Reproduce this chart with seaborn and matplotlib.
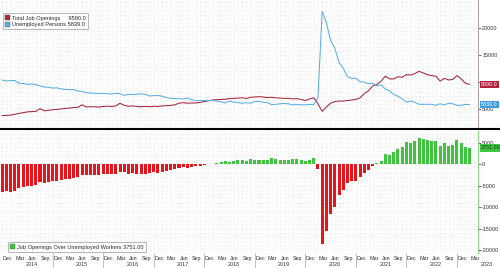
import numpy as np
import pandas as pd
import matplotlib
matplotlib.use("Agg")
import matplotlib.pyplot as plt
import seaborn as sns
from matplotlib.patches import Patch
from matplotlib.lines import Line2D
import matplotlib.transforms as mtransforms

sns.set_style("white")
plt.rcParams['font.family'] = ['Liberation Sans', 'DejaVu Sans']

# Monthly data, Dec 2013 .. Mar 2023 (thousands)
start_month = "2013-12"
job_openings = [
    3800,
    3850, 3900, 4050, 4200, 4350, 4500, 4550, 4600, 5100, 4700, 4800, 4900,
    4950, 5050, 5150, 5200, 5300, 5350, 5800, 5400, 5450, 5450, 5400, 5500,
    5550, 5500, 5600, 6100, 5700, 5550, 5600, 5500, 5450, 5500, 5450, 5550,
    5500, 5600, 5650, 5700, 5800, 6100, 6200, 6100, 6150, 6150, 6250, 6400,
    6550, 6700, 6750, 6800, 6850, 6950, 7000, 7050, 7100, 7000, 7200, 7250,
    7300, 7250, 7150, 7200, 7100, 7050, 7000, 7000, 6900, 6950, 6800, 6600,
    6900, 7100, 6000, 4600, 5400, 6100, 6400, 6500, 6500, 6600, 6700, 6800,
    7100, 7900, 8400, 9300, 9600, 10200, 11100, 10600, 10600, 11000, 10900, 11400,
    11300, 11600, 12000, 11700, 11400, 11200, 11100, 10200, 10700, 10400, 10500, 11200,
    10600, 9800, 9590,
]
unemployed = [
    10400,
    10200, 10300, 10300, 9800, 9750, 9600, 9650, 9550, 9300, 9100, 9050, 8900,
    8950, 8750, 8650, 8600, 8650, 8350, 8300, 8050, 7950, 7950, 7900, 7900,
    7850, 7800, 7950, 7850, 7550, 7750, 7700, 7750, 7850, 7750, 7450, 7500,
    7550, 7400, 7150, 7000, 6950, 6950, 6900, 7050, 6750, 6550, 6600, 6600,
    6600, 6600, 6500, 6350, 6150, 6500, 6300, 6200, 6100, 6200, 6100, 6400,
    6450, 6250, 6200, 5850, 5900, 6000, 6050, 6000, 5800, 5850, 5800, 5800,
    5900, 5800, 7200, 23100, 21000, 17700, 16300, 13600, 12600, 11000, 10700, 10700,
    10100, 10000, 9700, 9800, 9300, 9500, 8700, 8400, 7700, 7400, 6900, 6300,
    6500, 6300, 5900, 5900, 5900, 5900, 5700, 6000, 5800, 6100, 6000, 5700,
    5700, 5900, 5839,
]
series_names = ["Total Job Openings", "Unemployed Persons"]
gap_name = "Job Openings Over Unemployed Workers"
last_labels = ["9590.0", "5839.0", "3751.00"]
month_ticks = ["Dec", "Mar", "Jun", "Sep"]
years = ["2014", "2015", "2016", "2017", "2018", "2019", "2020", "2021", "2022", "2023"]
top_ticks = [5000, 10000, 15000, 20000]
top_tick_labels = ["5000", "", "15000", "20000"]
bottom_ticks = [5000, 0, -5000, -10000, -15000, -20000]

idx = np.arange(len(job_openings))
jo = np.array(job_openings, dtype=float)
un = np.array(unemployed, dtype=float)
gap = jo - un
df = pd.DataFrame({"i": idx, "jo": jo, "un": un, "gap": gap,
                   "sign": np.where(gap >= 0, "pos", "neg")})

RED = "#a3243b"
BLUE = "#5aaee2"
BAR_RED = "#e8141c"
BAR_GREEN = "#3fc43f"
GRID = "#cfcfcf"
FS = 3.9

fig = plt.figure(figsize=(5.0, 2.68), dpi=100)
W, H = 500.0, 268.0
ax1 = fig.add_axes([0, 1 - 127 / H, 478 / W, 127 / H])
ax2 = fig.add_axes([0, 1 - 253 / H, 478 / W, 122 / H])

xlim = (-0.5, 113.0)

# --- top panel
sns.lineplot(data=df, x="i", y="jo", ax=ax1, color=RED, lw=0.75, zorder=3)
sns.lineplot(data=df, x="i", y="un", ax=ax1, color=BLUE, lw=0.75, zorder=3)
ax1.set_xlim(*xlim)
ax1.set_ylim(1700, 25200)
ax1.set_xlabel("")
ax1.set_ylabel("")

# --- bottom panel
sns.barplot(data=df, x="i", y="gap", hue="sign", palette={"pos": BAR_GREEN, "neg": BAR_RED},
            native_scale=True, dodge=False, width=0.72, ax=ax2, legend=False, zorder=3,
            linewidth=0, saturation=1)
ax2.set_xlim(*xlim)
ax2.set_ylim(-20700, 7700)
ax2.set_xlabel("")
ax2.set_ylabel("")

# grids (dotted)
for ax, ystep, ylo, yhi in [(ax1, 750, 0, 26000), (ax2, 1000, -21000, 8000)]:
    for xv in np.arange(0, 114, 1):
        ax.axvline(xv, color=GRID, lw=0.5, ls=(0, (0.6, 2.6)), zorder=0)
    for yv in np.arange(ylo, yhi, ystep):
        ax.axhline(yv, color=GRID, lw=0.5, ls=(0, (0.6, 2.6)), zorder=0)
    for s in ["top", "left", "bottom"]:
        ax.spines[s].set_visible(False)
    ax.yaxis.tick_right()
    ax.tick_params(axis="y", which="both", labelsize=FS, length=2, width=0.5,
                   pad=1.0, colors="#333333", direction="out")

ax1.spines["right"].set_color("#b0a0a8")
ax1.spines["right"].set_linewidth(0.8)
ax2.spines["right"].set_color("#8fd88f")
ax2.spines["right"].set_linewidth(0.8)
ax1.set_yticks(top_ticks)
ax1.set_yticklabels(top_tick_labels)
ax2.set_yticks(bottom_ticks)
ax2.set_yticklabels([str(v) for v in bottom_ticks])
ax1.tick_params(axis="x", bottom=False, labelbottom=False)

# x ticks: every quarter starting Dec
qpos = list(range(0, 112, 3))
ax2.set_xticks(qpos)
ax2.set_xticklabels([month_ticks[(p // 3) % 4] for p in qpos], ha="left")
ax2.tick_params(axis="x", labelsize=FS, length=2, width=0.4, pad=0.5, colors="#333333")
for lbl in ax2.get_xticklabels():
    lbl.set_transform(lbl.get_transform() + mtransforms.ScaledTranslation(0.5 / 100, 0, fig.dpi_scale_trans))

trans = mtransforms.blended_transform_factory(ax2.transData, fig.transFigure)
for k, yr in enumerate(years):
    c = 12 * k + 7
    ax2.text(c, 1 - 264 / H, yr, transform=trans, fontsize=FS, ha="center", va="center",
             color="#333333", clip_on=False)
for k in range(1, 10):
    xv = 12 * k
    fig.add_artist(Line2D([xv, xv], [1 - 253 / H, 0], transform=trans, color="#aaaaaa", lw=0.5))

# separator line
fig.add_artist(Line2D([0, 1], [1 - 128.5 / H, 1 - 128.5 / H], transform=fig.transFigure,
                      color="black", lw=1.5))

# legends
h1 = [Patch(facecolor=RED, edgecolor="#555555", lw=0.3),
      Patch(facecolor=BLUE, edgecolor="#555555", lw=0.3)]
lab1 = [f"{series_names[0]}     {last_labels[0]}", f"{series_names[1]} {last_labels[1]}"]
leg1 = ax1.legend(h1, lab1, loc="upper left", bbox_to_anchor=(0.006, 0.895), fontsize=FS + 0.2,
                  frameon=True, fancybox=False, edgecolor="#999999", framealpha=1,
                  handlelength=0.9, handleheight=0.9, handletextpad=0.4, borderpad=0.35,
                  labelspacing=0.25, borderaxespad=0)
leg1.get_frame().set_linewidth(0.5)
leg1.set_zorder(10)
h2 = [Patch(facecolor=BAR_GREEN, edgecolor="#555555", lw=0.3)]
leg2 = ax2.legend(h2, [f"{gap_name} {last_labels[2]}"], loc="lower left",
                  bbox_to_anchor=(0.016, 0.01), fontsize=FS + 0.2, frameon=True, fancybox=False,
                  edgecolor="#999999", framealpha=1, handlelength=0.9, handleheight=0.9,
                  handletextpad=0.4, borderpad=0.35, borderaxespad=0)
leg2.get_frame().set_linewidth(0.5)
leg2.set_zorder(10)

# last value boxes on right axis
def value_box(ax, y, txt, fc, tc):
    t = mtransforms.blended_transform_factory(ax.transAxes, ax.transData)
    ax.text(1.006, y, txt, transform=t, fontsize=FS, ha="left", va="center", color=tc,
            clip_on=False, zorder=20,
            bbox=dict(boxstyle="square,pad=0.25", fc=fc, ec="none"))

value_box(ax1, jo[-1], last_labels[0], "#b0203a", "white")
value_box(ax1, un[-1], last_labels[1], "#3d9ee0", "white")
value_box(ax2, gap[-1], last_labels[2], "#3fc43f", "#1a3a1a")

fig.savefig("out.png", dpi=100)
